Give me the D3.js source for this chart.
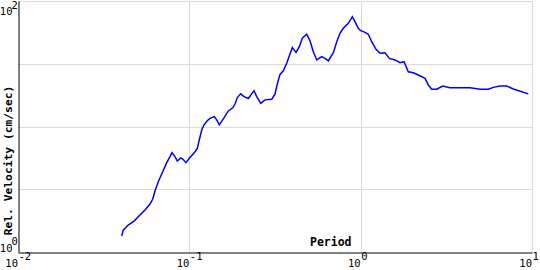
<!DOCTYPE html>
<html>
<head>
<meta charset="utf-8">
<script src="https://cdn.jsdelivr.net/npm/d3@7"></script>
<style>
  body { margin: 0; background: #fff; }
  svg { display: block; }
</style>
</head>
<body>
<svg id="chart" width="540" height="270"></svg>
<script>
// Period (sec) and relative velocity (cm/sec)
var periods = [0.0403, 0.0412, 0.0440, 0.0477, 0.0515, 0.0551, 0.0589, 0.0611, 0.0631, 0.0659,
               0.0699, 0.0738, 0.0771, 0.0792, 0.0825, 0.0851, 0.0891, 0.0915, 0.0956, 0.1000,
               0.108, 0.1113, 0.1143, 0.1181, 0.1218, 0.1273, 0.132, 0.1399, 0.1445, 0.1496,
               0.1579, 0.1689, 0.1791, 0.1848, 0.1905, 0.1995, 0.2085, 0.2209, 0.2385, 0.2474,
               0.2611, 0.2765, 0.3026, 0.3162, 0.3262, 0.3383, 0.3536, 0.3701, 0.3817, 0.399,
               0.4195, 0.4385, 0.4565, 0.4842, 0.5062, 0.5292, 0.5539, 0.5925, 0.6193, 0.6474,
               0.6925, 0.7251, 0.7577, 0.7921, 0.8472, 0.8937, 0.9268, 0.9687, 1.0005, 1.06,
               1.108, 1.16, 1.229, 1.297, 1.387, 1.47, 1.586, 1.697, 1.791, 1.897,
               2.029, 2.17, 2.375, 2.483, 2.598, 2.778, 3.011, 3.322, 4.347, 4.972,
               5.559, 5.946, 6.506, 7.119, 7.78, 8.71, 9.515];
var velocity = [1.34, 1.50, 1.64, 1.77, 1.97, 2.16, 2.41, 2.63, 3.08, 3.63,
                4.36, 5.15, 5.75, 6.18, 5.75, 5.31, 5.61, 5.51, 5.15, 5.58,
                6.30, 6.70, 7.80, 9.38, 10.3, 11.1, 11.6, 12.0, 11.3, 10.3,
                11.5, 13.3, 14.1, 15.1, 17.0, 18.2, 17.3, 16.7, 19.3, 17.3,
                15.3, 16.3, 16.5, 18.1, 21.8, 26.0, 27.8, 31.9, 36.0, 42.5,
                38.9, 43.2, 50.5, 54.3, 48.3, 39.4, 33.9, 36.0, 34.9, 33.3,
                38.7, 47.4, 55.3, 60.6, 66.4, 75.0, 68.4, 60.6, 58.0, 56.3,
                54.3, 47.4, 41.2, 38.3, 38.7, 34.9, 33.9, 32.2, 32.8, 27.3,
                26.8, 25.7, 24.2, 21.4, 19.8, 19.8, 21.0, 20.4, 20.4, 19.8,
                19.8, 20.5, 21.0, 21.0, 19.9, 18.9, 18.2];

var xTicks = [0.01, 0.1, 1, 10];
var xExps = ["-2", "-1", "0", "1"];
var yTicks = [1, 100];
var yExps = ["0", "2"];
var yGrid = [Math.pow(10, 0.5), 10, Math.pow(10, 1.5), 100];

var svg = d3.select("#chart");
var font = "'DejaVu Sans Mono', monospace";

var x = d3.scaleLog().domain([0.01, 10]).range([18, 532]);
var y = d3.scaleLog().domain([1, 100]).range([252, 1]);

// grid
svg.append("g").selectAll("line.gx")
   .data(xTicks.slice(1))
   .enter().append("line")
   .attr("x1", d => Math.round(x(d)) + 0.5).attr("x2", d => Math.round(x(d)) + 0.5)
   .attr("y1", y(100)).attr("y2", y(1))
   .attr("stroke", "#dadada").attr("stroke-width", 1);

svg.append("g").selectAll("line.gy")
   .data(yGrid)
   .enter().append("line")
   .attr("x1", x(0.01)).attr("x2", x(10))
   .attr("y1", d => Math.round(y(d)) + 0.5).attr("y2", d => Math.round(y(d)) + 0.5)
   .attr("stroke", "#dadada").attr("stroke-width", 1);

// axes
svg.append("g")
   .attr("transform", "translate(0,252.5)")
   .call(d3.axisBottom(x).tickValues([]).tickSizeOuter(0))
   .select(".domain").attr("stroke", "#000");
svg.append("g")
   .attr("transform", "translate(18.5,0)")
   .call(d3.axisLeft(y).tickValues([]).tickSizeOuter(0))
   .select(".domain").attr("stroke", "#000");

// x tick labels as 10 with exponent
var xl = svg.append("g").selectAll("g").data(xTicks).enter().append("g");
xl.append("text")
  .attr("x", d => x(d)).attr("y", 267)
  .attr("text-anchor", "end")
  .attr("font-family", font).attr("font-size", 10.5)
  .text("10");
xl.append("text")
  .attr("x", d => x(d) + 0.5).attr("y", 260)
  .attr("font-family", font).attr("font-size", 10.5)
  .text((d, i) => xExps[i]);

// y tick labels
var yl = svg.append("g").selectAll("g").data(yTicks).enter().append("g");
yl.append("text")
  .attr("x", 12.5).attr("y", (d, i) => i == 0 ? 252 : 15)
  .attr("text-anchor", "end")
  .attr("font-family", font).attr("font-size", 10.5)
  .text("10");
yl.append("text")
  .attr("x", 11.5).attr("y", (d, i) => i == 0 ? 245 : 8.5)
  .attr("font-family", font).attr("font-size", 10.5)
  .text((d, i) => yExps[i]);

// axis titles
svg.append("text")
   .attr("x", 310).attr("y", 245.5)
   .attr("font-family", font).attr("font-size", 11.5).attr("font-weight", "bold")
   .text("Period");
svg.append("text")
   .attr("transform", "translate(12,160.5) rotate(-90)")
   .attr("text-anchor", "middle")
   .attr("font-family", font).attr("font-size", 11.3).attr("font-weight", "bold")
   .text("Rel. Velocity (cm/sec)");

// the curve
var line = d3.line()
  .x((d, i) => x(periods[i]))
  .y((d, i) => y(velocity[i]));

svg.append("path")
   .datum(velocity)
   .attr("d", line)
   .attr("fill", "none")
   .attr("stroke", "#0000ff")
   .attr("stroke-width", 1.5);
</script>
</body>
</html>
